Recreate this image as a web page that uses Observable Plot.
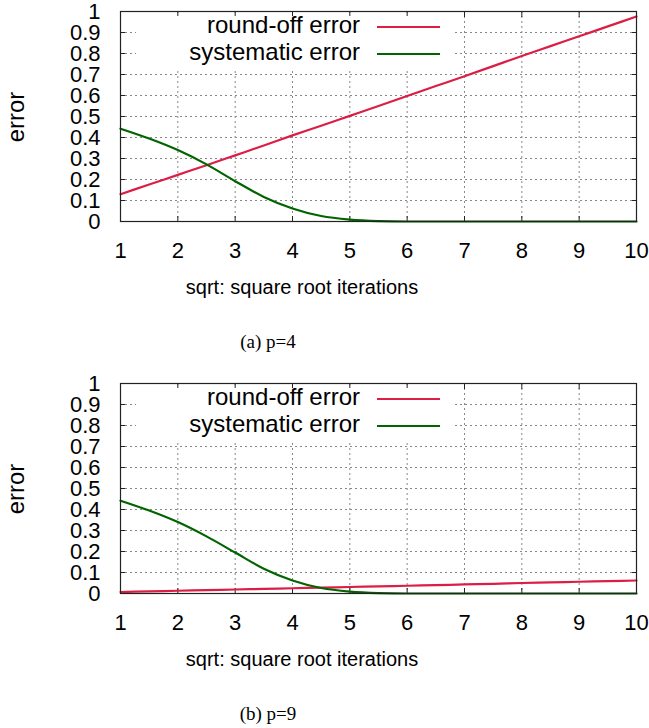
<!DOCTYPE html>
<html>
<head>
<meta charset="utf-8">
<script src="https://cdn.jsdelivr.net/npm/d3@7"></script>
<script src="https://cdn.jsdelivr.net/npm/@observablehq/plot@0.6"></script>
<style>
  html, body { margin: 0; padding: 0; background: #fff; }
  #root { position: relative; width: 649px; height: 728px; overflow: hidden; font-family: "Liberation Sans", Arial, sans-serif; }
  .panel { position: absolute; left: 0; width: 649px; height: 300px; }
  .legend { position: absolute; background: #fff; }
  .lg-text { position: absolute; font-size: 24px; color: #000; white-space: nowrap; text-align: right; line-height: 1; }
  .lg-line { position: absolute; height: 2px; }
  .ylab { position: absolute; font-size: 24px; white-space: nowrap; line-height: 1; }
  .xlab { position: absolute; font-size: 20px; white-space: nowrap; line-height: 1; transform: translateX(-50%); }
  .cap { position: absolute; font-family: "Liberation Serif", "Times New Roman", serif; font-size: 19px; white-space: nowrap; line-height: 1; transform: translateX(-50%); }
</style>
</head>
<body>
<div id="root"></div>
<script>
// ---- data ----
const xTicks = [1, 2, 3, 4, 5, 6, 7, 8, 9, 10];
const yTicks = [0, 0.1, 0.2, 0.3, 0.4, 0.5, 0.6, 0.7, 0.8, 0.9, 1];
const yTickLabels = ["0", "0.1", "0.2", "0.3", "0.4", "0.5", "0.6", "0.7", "0.8", "0.9", "1"];
const seriesNames = ["round-off error", "systematic error"];
const seriesColors = ["#dc1e46", "#006400"];

const iterX = [1, 1.5, 2, 2.5, 3, 3.5, 4, 4.5, 5, 5.5, 6, 6.5, 7, 7.5, 8, 8.5, 9, 9.5, 10];

// panel (a) p=4
const roundoffA = [0.130, 0.176, 0.222, 0.268, 0.315, 0.362, 0.410, 0.456, 0.503, 0.550, 0.598, 0.645, 0.692, 0.740, 0.788, 0.835, 0.882, 0.929, 0.976];
const systematicA = [0.442, 0.395, 0.340, 0.272, 0.192, 0.117, 0.062, 0.026, 0.009, 0.002, 0.0, 0.0, 0.0, 0.0, 0.0, 0.0, 0.0, 0.0, 0.0];

// panel (b) p=9
const roundoffB = [0.007, 0.010, 0.013, 0.016, 0.019, 0.022, 0.025, 0.028, 0.031, 0.034, 0.037, 0.040, 0.043, 0.046, 0.050, 0.053, 0.056, 0.059, 0.062];
const systematicB = [0.442, 0.395, 0.340, 0.272, 0.195, 0.118, 0.062, 0.026, 0.009, 0.002, 0.0, 0.0, 0.0, 0.0, 0.0, 0.0, 0.0, 0.0, 0.0];

const xLabel = "sqrt: square root iterations";
const yLabel = "error";
const captions = ["(a) p=4", "(b) p=9"];
const panelTops = [0, 372];

// ---- chart ----
const W = 649, H = 300;
const M = {top: 11, right: 13, bottom: 79, left: 120};

function makePanel(roundoff, systematic) {
  const rows = [];
  iterX.forEach((x, i) => {
    rows.push({x, y: roundoff[i], s: seriesNames[0]});
    rows.push({x, y: systematic[i], s: seriesNames[1]});
  });
  const fmt = d => yTickLabels[yTicks.indexOf(d)] ?? String(d);
  return Plot.plot({
    width: W, height: H,
    marginTop: M.top, marginRight: M.right, marginBottom: M.bottom, marginLeft: M.left,
    style: {fontFamily: "'Liberation Sans', Arial, sans-serif", background: "#fff", overflow: "visible"},
    x: {domain: [1, 10]},
    y: {domain: [0, 1]},
    color: {domain: seriesNames, range: seriesColors},
    marks: [
      Plot.gridX(xTicks.slice(1, -1), {stroke: "#888", strokeOpacity: 1, strokeDasharray: "2,3"}),
      Plot.gridY(yTicks.slice(1, -1), {stroke: "#888", strokeOpacity: 1, strokeDasharray: "2,3"}),
      // inward tick marks on all four sides
      Plot.axisX(xTicks, {anchor: "bottom", tickSize: -5, tickFormat: () => "", label: null, stroke: "#222"}),
      Plot.axisX(xTicks, {anchor: "top", tickSize: -5, tickFormat: () => "", label: null, stroke: "#222"}),
      Plot.axisY(yTicks, {anchor: "left", tickSize: -5, tickFormat: () => "", label: null, stroke: "#222"}),
      Plot.axisY(yTicks, {anchor: "right", tickSize: -5, tickFormat: () => "", label: null, stroke: "#222"}),
      // labels
      Plot.axisX(xTicks, {anchor: "bottom", tickSize: 0, tickPadding: 21, fontSize: 22, label: null, tickFormat: d => String(d)}),
      Plot.axisY(yTicks, {anchor: "left", tickSize: 0, tickPadding: 20, fontSize: 22, label: null, tickFormat: fmt}),
      Plot.line(rows, {x: "x", y: "y", z: "s", stroke: "s", strokeWidth: 2.2, curve: "monotone-x"}),
      Plot.frame({stroke: "#222", strokeWidth: 1.2})
    ]
  });
}

const root = document.getElementById("root");
const datasets = [[roundoffA, systematicA], [roundoffB, systematicB]];

datasets.forEach(([r, s], k) => {
  const panel = document.createElement("div");
  panel.className = "panel";
  panel.style.top = panelTops[k] + "px";
  panel.appendChild(makePanel(r, s));

  // legend box (opaque, hides grid as in gnuplot)
  const lg = document.createElement("div");
  lg.className = "legend";
  Object.assign(lg.style, {left: "136px", top: "16px", width: "316px", height: "53px"});
  panel.appendChild(lg);
  seriesNames.forEach((name, i) => {
    const t = document.createElement("div");
    t.className = "lg-text";
    t.textContent = name;
    Object.assign(t.style, {right: (W - 360) + "px", top: (13 + i * 27) + "px"});
    panel.appendChild(t);
    const l = document.createElement("div");
    l.className = "lg-line";
    Object.assign(l.style, {left: "377px", width: "63px", top: (26 + i * 27) + "px", background: seriesColors[i]});
    panel.appendChild(l);
  });

  const yl = document.createElement("div");
  yl.className = "ylab";
  yl.textContent = yLabel;
  panel.appendChild(yl);

  const xl = document.createElement("div");
  xl.className = "xlab";
  xl.textContent = xLabel;
  Object.assign(xl.style, {left: "302px", top: "277px"});
  panel.appendChild(xl);

  root.appendChild(panel);

  const cap = document.createElement("div");
  cap.className = "cap";
  cap.textContent = captions[k];
  Object.assign(cap.style, {left: "268px", top: (panelTops[k] + 332) + "px"});
  root.appendChild(cap);
});

// place rotated y labels centered at x=16, y=117 within each panel
document.querySelectorAll(".ylab").forEach(el => {
  const w = el.offsetWidth, h = el.offsetHeight;
  el.style.left = (16 - w / 2) + "px";
  el.style.top = (117 - h / 2) + "px";
  el.style.transform = "rotate(-90deg)";
});
</script>
</body>
</html>
